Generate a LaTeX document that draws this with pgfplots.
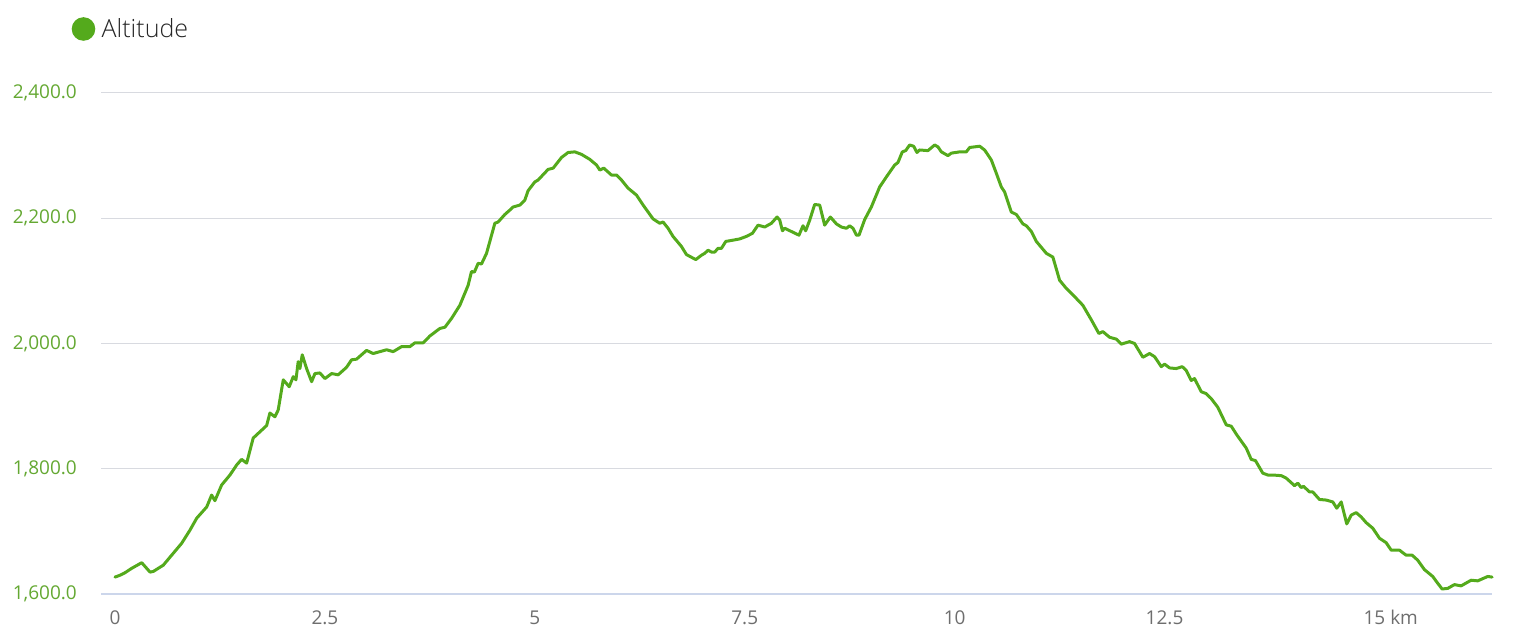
\documentclass[border=0pt]{standalone}
\usepackage{fontspec}
\setmainfont{Open Sans}
\newfontfamily\lightfont{Open Sans Light}
\usepackage{pgfplots}
\pgfplotsset{compat=1.18}
\definecolor{altgreen}{RGB}{84,170,28}
\definecolor{ylab}{RGB}{100,168,50}
\definecolor{xlab}{RGB}{110,110,110}
\definecolor{gridc}{RGB}{216,218,224}
\definecolor{axisc}{RGB}{204,214,235}
\begin{document}
\begin{tikzpicture}
\begin{axis}[
  name=ax, scale only axis, width=1391pt, height=501pt,
  xmin=-0.1667, xmax=16.40, ymin=1600, ymax=2400,
  xtick={0,2.5,5,7.5,10,12.5,15},
  xticklabels={0,2.5,5,7.5,10,12.5,{15\rlap{\ km}}},
  ytick={1600,1800,2000,2200,2400},
  major tick length=0pt,
  ymajorgrids, grid style={draw=gridc, line width=1pt},
  axis x line*=bottom, axis y line*=left,
  x axis line style={draw=axisc, line width=1.8pt, -},
  y axis line style={draw=none},
  /pgf/number format/assume math mode=true,
  yticklabel style={/pgf/number format/fixed, /pgf/number format/fixed zerofill,
    /pgf/number format/precision=1, /pgf/number format/1000 sep={,}},
  tick label style={font=\fontsize{19}{23}\selectfont},
  yticklabel style={text=ylab, anchor=east, inner sep=0pt, xshift=-24pt},
  xticklabel style={text=xlab, anchor=base, inner sep=0pt, yshift=-30pt},
  clip=false,
  legend style={at={(axis description cs:0,1)}, anchor=west, xshift=-29.3pt, yshift=64pt,
    draw=none, fill=none, inner sep=0pt, outer sep=0pt,
    font=\lightfont\fontsize{25}{30}\selectfont, text=black!85},
  legend cell align=left,
  legend image code/.code={\fill[altgreen, draw=none] (11.8pt,0pt) circle (11.8pt); \path[draw=none] (0pt,0pt) -- (28pt,0pt);},
]
\addplot[altgreen, line width=3pt, line join=round, line cap=round] coordinates {
(0.000,1627) (0.060,1630) (0.119,1634) (0.199,1641) (0.318,1650) (0.417,1635)
(0.456,1636) (0.575,1646) (0.675,1662) (0.794,1681) (0.893,1702) (0.973,1721)
(1.092,1739) (1.151,1758) (1.190,1749) (1.270,1774) (1.369,1790) (1.449,1806)
(1.508,1815) (1.568,1809) (1.646,1849) (1.726,1859) (1.806,1869) (1.845,1889)
(1.905,1883) (1.944,1894) (2.004,1942) (2.075,1931) (2.123,1947) (2.155,1942)
(2.182,1971) (2.202,1960) (2.230,1982) (2.282,1960) (2.342,1939) (2.381,1952)
(2.440,1953) (2.500,1944) (2.580,1952) (2.658,1950) (2.758,1962) (2.818,1974)
(2.877,1975) (2.996,1989) (3.075,1984) (3.235,1990) (3.313,1987) (3.413,1995)
(3.512,1995) (3.571,2001) (3.670,2001) (3.750,2012) (3.869,2024) (3.929,2026)
(4.008,2040) (4.107,2061) (4.206,2093) (4.246,2115) (4.280,2114) (4.325,2128)
(4.365,2127) (4.425,2144) (4.524,2192) (4.563,2194) (4.643,2206) (4.702,2213)
(4.742,2218) (4.821,2221) (4.881,2229) (4.920,2244) (5.000,2258) (5.039,2261)
(5.158,2278) (5.218,2280) (5.318,2297) (5.396,2305) (5.476,2306) (5.556,2302)
(5.655,2294) (5.735,2285) (5.774,2277) (5.821,2280) (5.913,2269) (5.973,2269)
(6.032,2261) (6.111,2248) (6.211,2237) (6.290,2221) (6.408,2199) (6.488,2192)
(6.527,2194) (6.587,2184) (6.646,2171) (6.746,2155) (6.806,2142) (6.917,2134)
(6.985,2141) (7.024,2144) (7.063,2149) (7.104,2146) (7.143,2146) (7.182,2152)
(7.223,2152) (7.274,2163) (7.360,2165) (7.440,2167) (7.520,2171) (7.592,2176)
(7.658,2189) (7.738,2186) (7.818,2192) (7.885,2202) (7.917,2197) (7.949,2180)
(7.976,2184) (8.146,2173) (8.194,2188) (8.226,2180) (8.274,2197) (8.333,2222)
(8.393,2221) (8.452,2189) (8.520,2202) (8.592,2191) (8.651,2186) (8.711,2184)
(8.750,2188) (8.789,2184) (8.830,2173) (8.861,2173) (8.929,2198) (9.008,2218)
(9.107,2250) (9.187,2266) (9.286,2285) (9.325,2289) (9.377,2306) (9.417,2308)
(9.464,2317) (9.512,2315) (9.551,2305) (9.583,2309) (9.682,2308) (9.762,2317)
(9.801,2314) (9.842,2306) (9.920,2300) (9.961,2304) (10.060,2306) (10.139,2306)
(10.179,2313) (10.298,2315) (10.357,2309) (10.437,2293) (10.496,2272) (10.556,2250)
(10.595,2242) (10.675,2210) (10.735,2206) (10.813,2191) (10.854,2188) (10.913,2179)
(10.973,2163) (11.092,2144) (11.170,2138) (11.250,2101) (11.330,2088) (11.449,2072)
(11.527,2061) (11.627,2038) (11.718,2016) (11.765,2019) (11.845,2010) (11.925,2007)
(11.985,1999) (12.083,2003) (12.143,2000) (12.242,1978) (12.321,1984) (12.381,1979)
(12.461,1963) (12.500,1967) (12.560,1961) (12.639,1960) (12.711,1963) (12.758,1957)
(12.818,1941) (12.857,1944) (12.937,1923) (12.996,1920) (13.056,1912) (13.135,1898)
(13.235,1870) (13.294,1868) (13.361,1854) (13.473,1833) (13.532,1815) (13.583,1813)
(13.670,1793) (13.730,1790) (13.789,1790) (13.889,1789) (13.949,1785) (14.048,1773)
(14.087,1777) (14.127,1770) (14.155,1772) (14.226,1763) (14.265,1763) (14.345,1751)
(14.425,1750) (14.504,1747) (14.551,1737) (14.604,1747) (14.670,1712) (14.723,1726)
(14.782,1730) (14.842,1723) (14.901,1714) (14.980,1705) (15.060,1689) (15.139,1682)
(15.199,1670) (15.298,1670) (15.377,1662) (15.449,1662) (15.515,1654) (15.595,1639)
(15.694,1628) (15.754,1617) (15.806,1608) (15.873,1609) (15.952,1615) (16.032,1613)
(16.151,1622) (16.230,1621) (16.349,1628) (16.401,1627)
};
\addlegendentry{Altitude}
\end{axis}
\pgfresetboundingbox
\path[use as bounding box] ([xshift=-101pt,yshift=-49pt]ax.south west) rectangle ([xshift=37pt,yshift=93pt]ax.north east);
\end{tikzpicture}
\end{document}
